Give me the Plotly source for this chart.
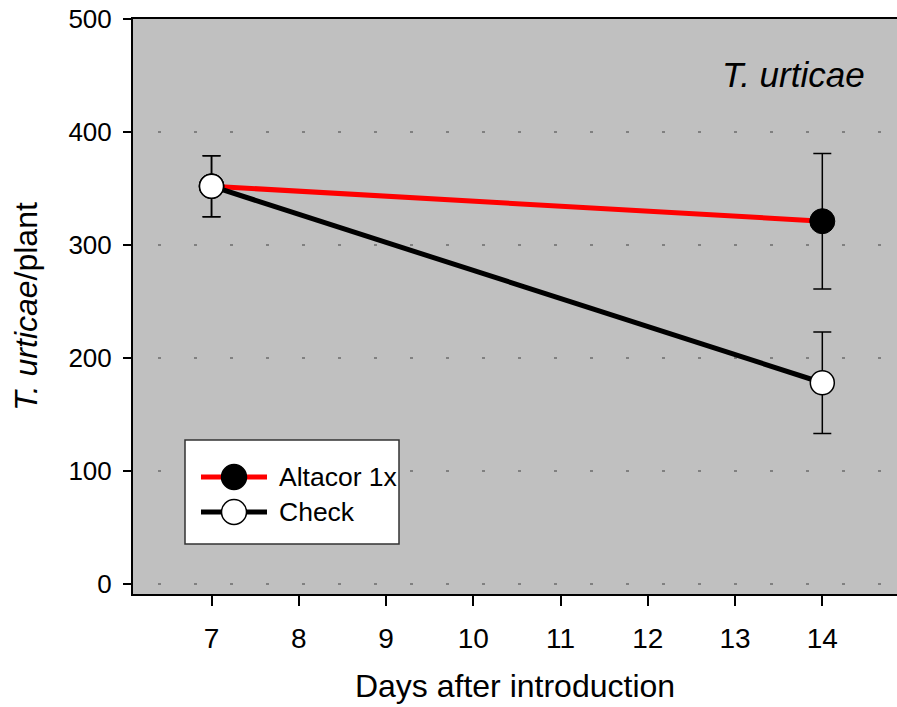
import plotly.graph_objects as go

# ---- data ----
days = [7, 14]
altacor_mean = [352, 321]
altacor_err = [27, 60]
check_mean = [352, 178]
check_err = [27, 45]
series_names = ["Altacor 1x", "Check"]
x_ticks = [7, 8, 9, 10, 11, 12, 13, 14]
y_ticks = [0, 100, 200, 300, 400, 500]

W, H = 897, 707
L, R, T, B = 133, 0, 19, 113
PW, PH = W - L - R, H - T - B

def px(x):
    return (x - L) / PW

def py(y):
    return (H - B - y) / PH

FONT = "Liberation Sans, Arial, sans-serif"

fig = go.Figure()

fig.add_trace(go.Scatter(
    x=days, y=altacor_mean, name=series_names[0], mode="lines+markers",
    line=dict(color="#ff0000", width=5),
    marker=dict(size=25, color="black", line=dict(color="black", width=1)),
    error_y=dict(type="data", array=altacor_err, color="black", thickness=1.5, width=9),
    showlegend=False,
))
fig.add_trace(go.Scatter(
    x=days, y=check_mean, name=series_names[1], mode="lines+markers",
    line=dict(color="black", width=5),
    marker=dict(size=24, color="white", line=dict(color="black", width=1.5)),
    error_y=dict(type="data", array=check_err, color="black", thickness=1.5, width=9),
    showlegend=False,
))

# ---- manual legend ----
shapes = []
shapes.append(dict(type="rect", xref="paper", yref="paper",
                   x0=px(185), x1=px(399), y0=py(544), y1=py(440),
                   fillcolor="white", line=dict(color="#333333", width=1.5), layer="above"))
legend_rows = [(477, "#ff0000", "black", series_names[0]), (512, "black", "white", series_names[1])]
annotations = []
for yy, lc, mc, label in legend_rows:
    shapes.append(dict(type="line", xref="paper", yref="paper",
                       x0=px(201), x1=px(267), y0=py(yy), y1=py(yy),
                       line=dict(color=lc, width=5), layer="above"))
    shapes.append(dict(type="circle", xref="paper", yref="paper",
                       xsizemode="pixel", ysizemode="pixel",
                       xanchor=px(234), yanchor=py(yy),
                       x0=-12.5, x1=12.5, y0=-12.5, y1=12.5,
                       fillcolor=mc, line=dict(color="black", width=1.5), layer="above"))
    annotations.append(dict(xref="paper", yref="paper", x=px(277), y=py(yy),
                            xanchor="left", yanchor="middle", showarrow=False,
                            text=label, font=dict(family=FONT, size=26.5, color="black")))

annotations.append(dict(xref="paper", yref="paper", x=px(867), y=py(74),
                        xanchor="right", yanchor="middle", showarrow=False,
                        text="<i>T. urticae</i>", font=dict(family=FONT, size=35, color="black")))

fig.update_layout(
    width=W, height=H,
    margin=dict(l=L, r=R, t=T, b=B),
    paper_bgcolor="white", plot_bgcolor="#c0c0c0",
    font=dict(family=FONT, color="black"),
    shapes=shapes, annotations=annotations,
    showlegend=False,
)
fig.update_xaxes(
    range=[6.1, 14.856], tickvals=x_ticks, ticktext=[str(v) for v in x_ticks],
    showline=True, linecolor="black", linewidth=2, mirror=True,
    ticks="outside", ticklen=10, tickwidth=1.5, tickcolor="black",
    showgrid=False, zeroline=False, ticklabelstandoff=8,
    tickfont=dict(size=28),
    title=dict(text="Days after introduction", font=dict(size=32), standoff=22),
)
fig.update_yaxes(
    range=[-9, 500], tickvals=y_ticks,
    showline=True, linecolor="black", linewidth=2,
    ticks="outside", ticklen=8, tickwidth=1.5, tickcolor="black",
    showgrid=True, gridcolor="#808080", gridwidth=2, griddash="0px,25px,3px,8px",
    zeroline=False, ticklabelstandoff=6,
    tickfont=dict(size=26),
    title=dict(text="<i>T. urticae</i>/plant", font=dict(size=32), standoff=21),
)

fig.write_html("out.html", config={"displayModeBar": False},
               post_script="document.body.style.margin='0';document.body.style.overflow='hidden';")
